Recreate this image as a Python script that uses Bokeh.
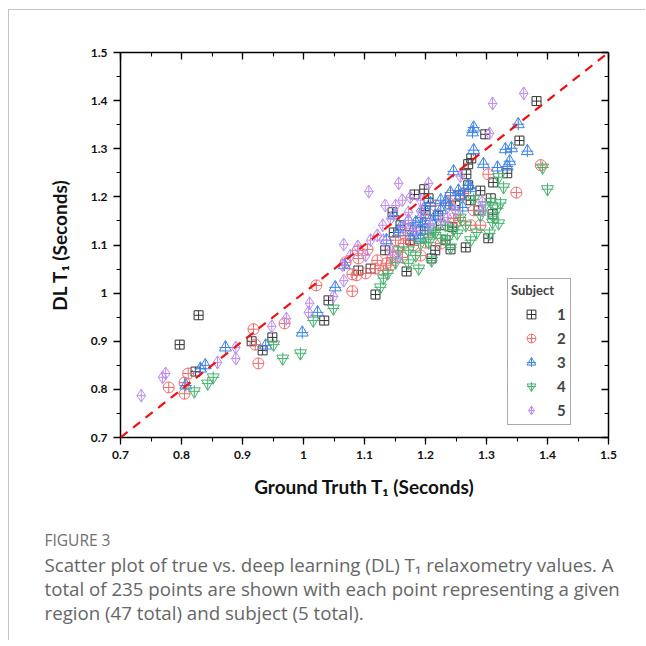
from bokeh.plotting import figure
from bokeh.layouts import column
from bokeh.models import (Range1d, LinearAxis, Legend, LegendItem, Slope, Title,
                          NumeralTickFormatter, SingleIntervalTicker,
                          CustomJSTickFormatter)
from bokeh.embed import file_html
from bokeh.resources import INLINE

# ---------------- data (ground truth T1, DL T1) in seconds ----------------
s1_x = [1.382, 1.354, 1.298, 1.275, 1.270, 1.267, 1.334, 1.311, 1.270, 1.182,
        1.198, 1.205, 1.146, 1.148, 1.200, 1.221, 1.307, 1.244, 1.310, 1.241,
        1.266, 1.303, 1.210, 1.169, 1.110, 1.090, 1.118, 1.041, 1.034, 0.828,
        0.797, 0.915, 0.949, 0.933, 0.823, 1.225, 1.249, 1.175, 1.159, 1.257,
        1.287, 1.233, 1.192, 1.134, 1.290, 1.274, 1.216]
s1_y = [1.399, 1.317, 1.330, 1.280, 1.268, 1.247, 1.249, 1.230, 1.224, 1.205,
        1.216, 1.197, 1.168, 1.126, 1.172, 1.161, 1.197, 1.137, 1.164, 1.091,
        1.095, 1.114, 1.072, 1.045, 1.051, 1.047, 0.997, 0.985, 0.943, 0.954,
        0.893, 0.900, 0.908, 0.881, 0.837, 1.141, 1.182, 1.110, 1.141, 1.203,
        1.172, 1.110, 1.130, 1.089, 1.213, 1.193, 1.089]

s2_x = [1.389, 1.349, 1.303, 1.262, 1.241, 1.238, 1.279, 1.246, 1.200, 1.225,
        1.164, 1.180, 1.200, 1.162, 1.146, 1.121, 1.118, 1.089, 1.090, 1.080,
        1.131, 1.154, 1.167, 1.105, 1.136, 1.102, 1.087, 1.080, 1.021, 0.969,
        0.918, 0.921, 0.926, 0.779, 0.805, 0.805, 0.811, 1.208, 1.257, 1.274,
        1.151, 1.192, 1.069, 1.216, 1.290, 1.175, 1.143]
s2_y = [1.266, 1.209, 1.247, 1.207, 1.203, 1.187, 1.172, 1.155, 1.155, 1.103,
        1.103, 1.099, 1.105, 1.074, 1.074, 1.068, 1.051, 1.089, 1.072, 1.039,
        1.047, 1.087, 1.120, 1.091, 1.062, 1.041, 1.037, 1.004, 1.016, 0.937,
        0.925, 0.893, 0.854, 0.804, 0.814, 0.791, 0.833, 1.130, 1.151, 1.141,
        1.110, 1.078, 1.064, 1.182, 1.141, 1.135, 1.058]

s3_x = [1.279, 1.277, 1.352, 1.279, 1.331, 1.341, 1.367, 1.338, 1.295, 1.318,
        1.334, 1.246, 1.270, 1.241, 1.254, 1.274, 1.225, 1.239, 1.261, 1.208,
        1.192, 1.184, 1.195, 1.179, 1.180, 1.159, 1.148, 1.203, 1.192, 1.233,
        1.067, 1.052, 1.023, 0.998, 0.938, 0.872, 0.831, 0.839, 0.807, 1.172,
        1.216, 1.208, 1.156, 1.225, 1.257, 1.198, 1.136]
s3_y = [1.344, 1.334, 1.351, 1.297, 1.299, 1.301, 1.295, 1.274, 1.268, 1.261,
        1.263, 1.253, 1.224, 1.209, 1.213, 1.218, 1.193, 1.182, 1.178, 1.187,
        1.157, 1.147, 1.143, 1.130, 1.120, 1.137, 1.161, 1.130, 1.114, 1.189,
        1.058, 1.012, 0.960, 0.918, 0.891, 0.887, 0.843, 0.850, 0.808, 1.151,
        1.161, 1.151, 1.126, 1.172, 1.203, 1.176, 1.110]

s4_x = [1.392, 1.400, 1.328, 1.320, 1.279, 1.307, 1.323, 1.318, 1.311, 1.310,
        1.320, 1.284, 1.305, 1.257, 1.246, 1.241, 1.252, 1.213, 1.205, 1.192,
        1.205, 1.236, 1.184, 1.189, 1.210, 1.138, 1.131, 1.126, 1.049, 1.016,
        0.951, 0.966, 0.995, 0.821, 0.843, 0.852, 1.172, 1.172, 1.216, 1.225,
        1.233, 1.266, 1.290, 1.151, 1.274, 1.298, 1.156]
s4_y = [1.261, 1.216, 1.220, 1.241, 1.195, 1.189, 1.187, 1.176, 1.160, 1.147,
        1.145, 1.126, 1.124, 1.157, 1.132, 1.095, 1.124, 1.130, 1.116, 1.103,
        1.105, 1.112, 1.078, 1.051, 1.068, 1.041, 1.031, 1.012, 0.968, 0.943,
        0.893, 0.864, 0.875, 0.796, 0.812, 0.825, 1.062, 1.089, 1.126, 1.114,
        1.141, 1.141, 1.162, 1.064, 1.110, 1.183, 1.089]

s5_x = [1.361, 1.310, 1.305, 1.257, 1.107, 1.156, 1.205, 1.162, 1.175, 1.130,
        1.143, 1.172, 1.192, 1.172, 1.162, 1.121, 1.131, 1.143, 1.154, 1.225,
        1.236, 1.293, 1.293, 1.066, 1.089, 1.077, 1.066, 1.049, 1.010, 1.008,
        0.972, 0.948, 0.889, 0.889, 0.859, 0.774, 0.769, 0.734, 1.151, 1.184,
        1.208, 1.110, 1.249, 1.134, 1.192, 1.102, 1.064]
s5_y = [1.415, 1.394, 1.332, 1.243, 1.211, 1.228, 1.228, 1.193, 1.199, 1.141,
        1.155, 1.168, 1.170, 1.151, 1.137, 1.120, 1.110, 1.089, 1.074, 1.151,
        1.157, 1.189, 1.172, 1.101, 1.097, 1.078, 1.026, 0.993, 0.979, 0.960,
        0.947, 0.931, 0.887, 0.864, 0.856, 0.833, 0.825, 0.787, 1.182, 1.130,
        1.141, 1.110, 1.172, 1.182, 1.193, 1.078, 1.058]

subjects = ["1", "2", "3", "4", "5"]
axis_min, axis_max = 0.7, 1.5
x_title = "Ground Truth T\u2081 (Seconds)"
y_title = "DL T\u2081 (Seconds)"
caption_head = "FIGURE 3"
caption_lines = [
    "Scatter plot of true vs. deep learning (DL) T\u2081 relaxometry values. A",
    "total of 235 points are shown with each point representing a given",
    "region (47 total) and subject (5 total).",
]

W = 636
FRAME_L, FRAME_R = 111, 37

# ---------------- chart figure ----------------
p = figure(width=W, height=517, output_backend="svg", toolbar_location=None,
           x_range=Range1d(axis_min, axis_max), y_range=Range1d(axis_min, axis_max),
           x_axis_location=None, y_axis_location=None,
           min_border_left=FRAME_L, min_border_right=FRAME_R, min_border_top=42,
           min_border_bottom=90)
p.grid.visible = False
p.outline_line_color = None
p.background_fill_color = "white"
p.border_fill_color = "white"

TICK_FONT = "Lato"


def make_axis(labels=True):
    ax = LinearAxis(ticker=SingleIntervalTicker(interval=0.1, num_minor_ticks=2))
    ax.axis_line_color = "black"
    ax.axis_line_width = 1.5
    ax.major_tick_line_color = "black"
    ax.minor_tick_line_color = "black"
    ax.major_tick_line_width = 1.3
    ax.minor_tick_line_width = 1.1
    if labels:
        ax.formatter = NumeralTickFormatter(format="0.[0]")
        ax.major_tick_out, ax.major_tick_in = 7, 0
        ax.minor_tick_out, ax.minor_tick_in = 4, 0
        ax.major_label_text_font = TICK_FONT
        ax.major_label_text_font_style = "bold"
        ax.major_label_text_font_size = "12px"
        ax.major_label_text_color = "#111111"
        ax.axis_label_text_font = TICK_FONT
        ax.axis_label_text_font_style = "bold"
        ax.axis_label_text_font_size = "19px"
        ax.axis_label_text_color = "#111111"
    else:
        ax.formatter = CustomJSTickFormatter(code="return '';")
        ax.major_tick_out, ax.major_tick_in = 0, 7
        ax.minor_tick_out, ax.minor_tick_in = 0, 4
        ax.major_label_standoff = 0
    return ax


ax_b = make_axis()
ax_b.axis_label = x_title
ax_b.axis_label_standoff = 13
ax_b.major_label_standoff = 6
p.add_layout(ax_b, "below")

ax_l = make_axis()
ax_l.axis_label = y_title
ax_l.axis_label_standoff = 17
ax_l.major_label_standoff = 6
p.add_layout(ax_l, "left")

p.add_layout(make_axis(labels=False), "above")
p.add_layout(make_axis(labels=False), "right")

# y = x reference line
p.add_layout(Slope(gradient=1, y_intercept=0, line_color="#f01010",
                   line_width=2.2, line_dash="9 7"))

# ---------------- scatter series ----------------
c1, c2, c3, c4, c5 = "#333333", "#f26a6a", "#3a82ea", "#45b36e", "#bf8cf2"
r1 = p.scatter(s1_x, s1_y, marker="square_cross", size=9, fill_color=None,
               line_color=c1, line_width=1)
r2 = p.scatter(s2_x, s2_y, marker="circle_cross", size=11, fill_color=None,
               line_color=c2, line_width=1)
r3a = p.scatter(s3_x, s3_y, marker="triangle", size=12, fill_color=None,
                line_color=c3, line_width=1)
r3b = p.scatter(s3_x, s3_y, marker="cross", size=12, fill_color=None,
                line_color=c3, line_width=1)
r4a = p.scatter(s4_x, s4_y, marker="inverted_triangle", size=12, fill_color=None,
                line_color=c4, line_width=1)
r4b = p.scatter(s4_x, s4_y, marker="cross", size=12, fill_color=None,
                line_color=c4, line_width=1)
r5 = p.scatter(s5_x, s5_y, marker="diamond_cross", size=13, fill_color=None,
               line_color=c5, line_width=1)

items = [LegendItem(label=subjects[0], renderers=[r1]),
         LegendItem(label=subjects[1], renderers=[r2]),
         LegendItem(label=subjects[2], renderers=[r3a, r3b]),
         LegendItem(label=subjects[3], renderers=[r4a, r4b]),
         LegendItem(label=subjects[4], renderers=[r5])]
legend = Legend(items=items, location=(387, 12), title="Subject",
                title_text_font=TICK_FONT, title_text_font_style="bold",
                title_text_font_size="13px", title_standoff=5,
                label_text_font=TICK_FONT, label_text_font_style="bold",
                label_text_font_size="15px", label_standoff=6, label_width=10,
                glyph_width=40, glyph_height=22, label_height=22, spacing=2,
                padding=3, margin=0, border_line_color="#555555",
                border_line_width=1, background_fill_color="white",
                background_fill_alpha=1)
p.add_layout(legend)

# ---------------- caption (titles stacked above an empty strip) ----------------
q = figure(width=W, height=113, output_backend="svg", toolbar_location=None,
           x_range=Range1d(0, 1), y_range=Range1d(0, 1),
           x_axis_location=None, y_axis_location=None,
           min_border_left=FRAME_L, min_border_right=FRAME_R,
           min_border_top=0, min_border_bottom=0)
q.grid.visible = False
q.outline_line_color = None
q.background_fill_color = "white"
q.border_fill_color = "white"

CAP_X = 35 - FRAME_L
q.add_layout(Title(text="\n".join(caption_lines), align="left", offset=CAP_X,
                   standoff=0, vertical_align="top", text_font="Open Sans",
                   text_font_size="18.7px", text_font_style="normal",
                   text_line_height=0.975, text_color="#666666"), "above")
q.add_layout(Title(text=caption_head, align="left", offset=CAP_X, standoff=0,
                   vertical_align="middle", text_font="Open Sans",
                   text_font_size="15.5px", text_font_style="normal",
                   text_color="#707070"), "above")

layout = column(p, q, spacing=0)
layout.styles = {"border-left": "1px solid #c4c4c4",
                 "border-top": "1px solid #c4c4c4",
                 "margin-left": "8px", "margin-top": "9px"}

open("out.html", "w").write(file_html(layout, INLINE))
